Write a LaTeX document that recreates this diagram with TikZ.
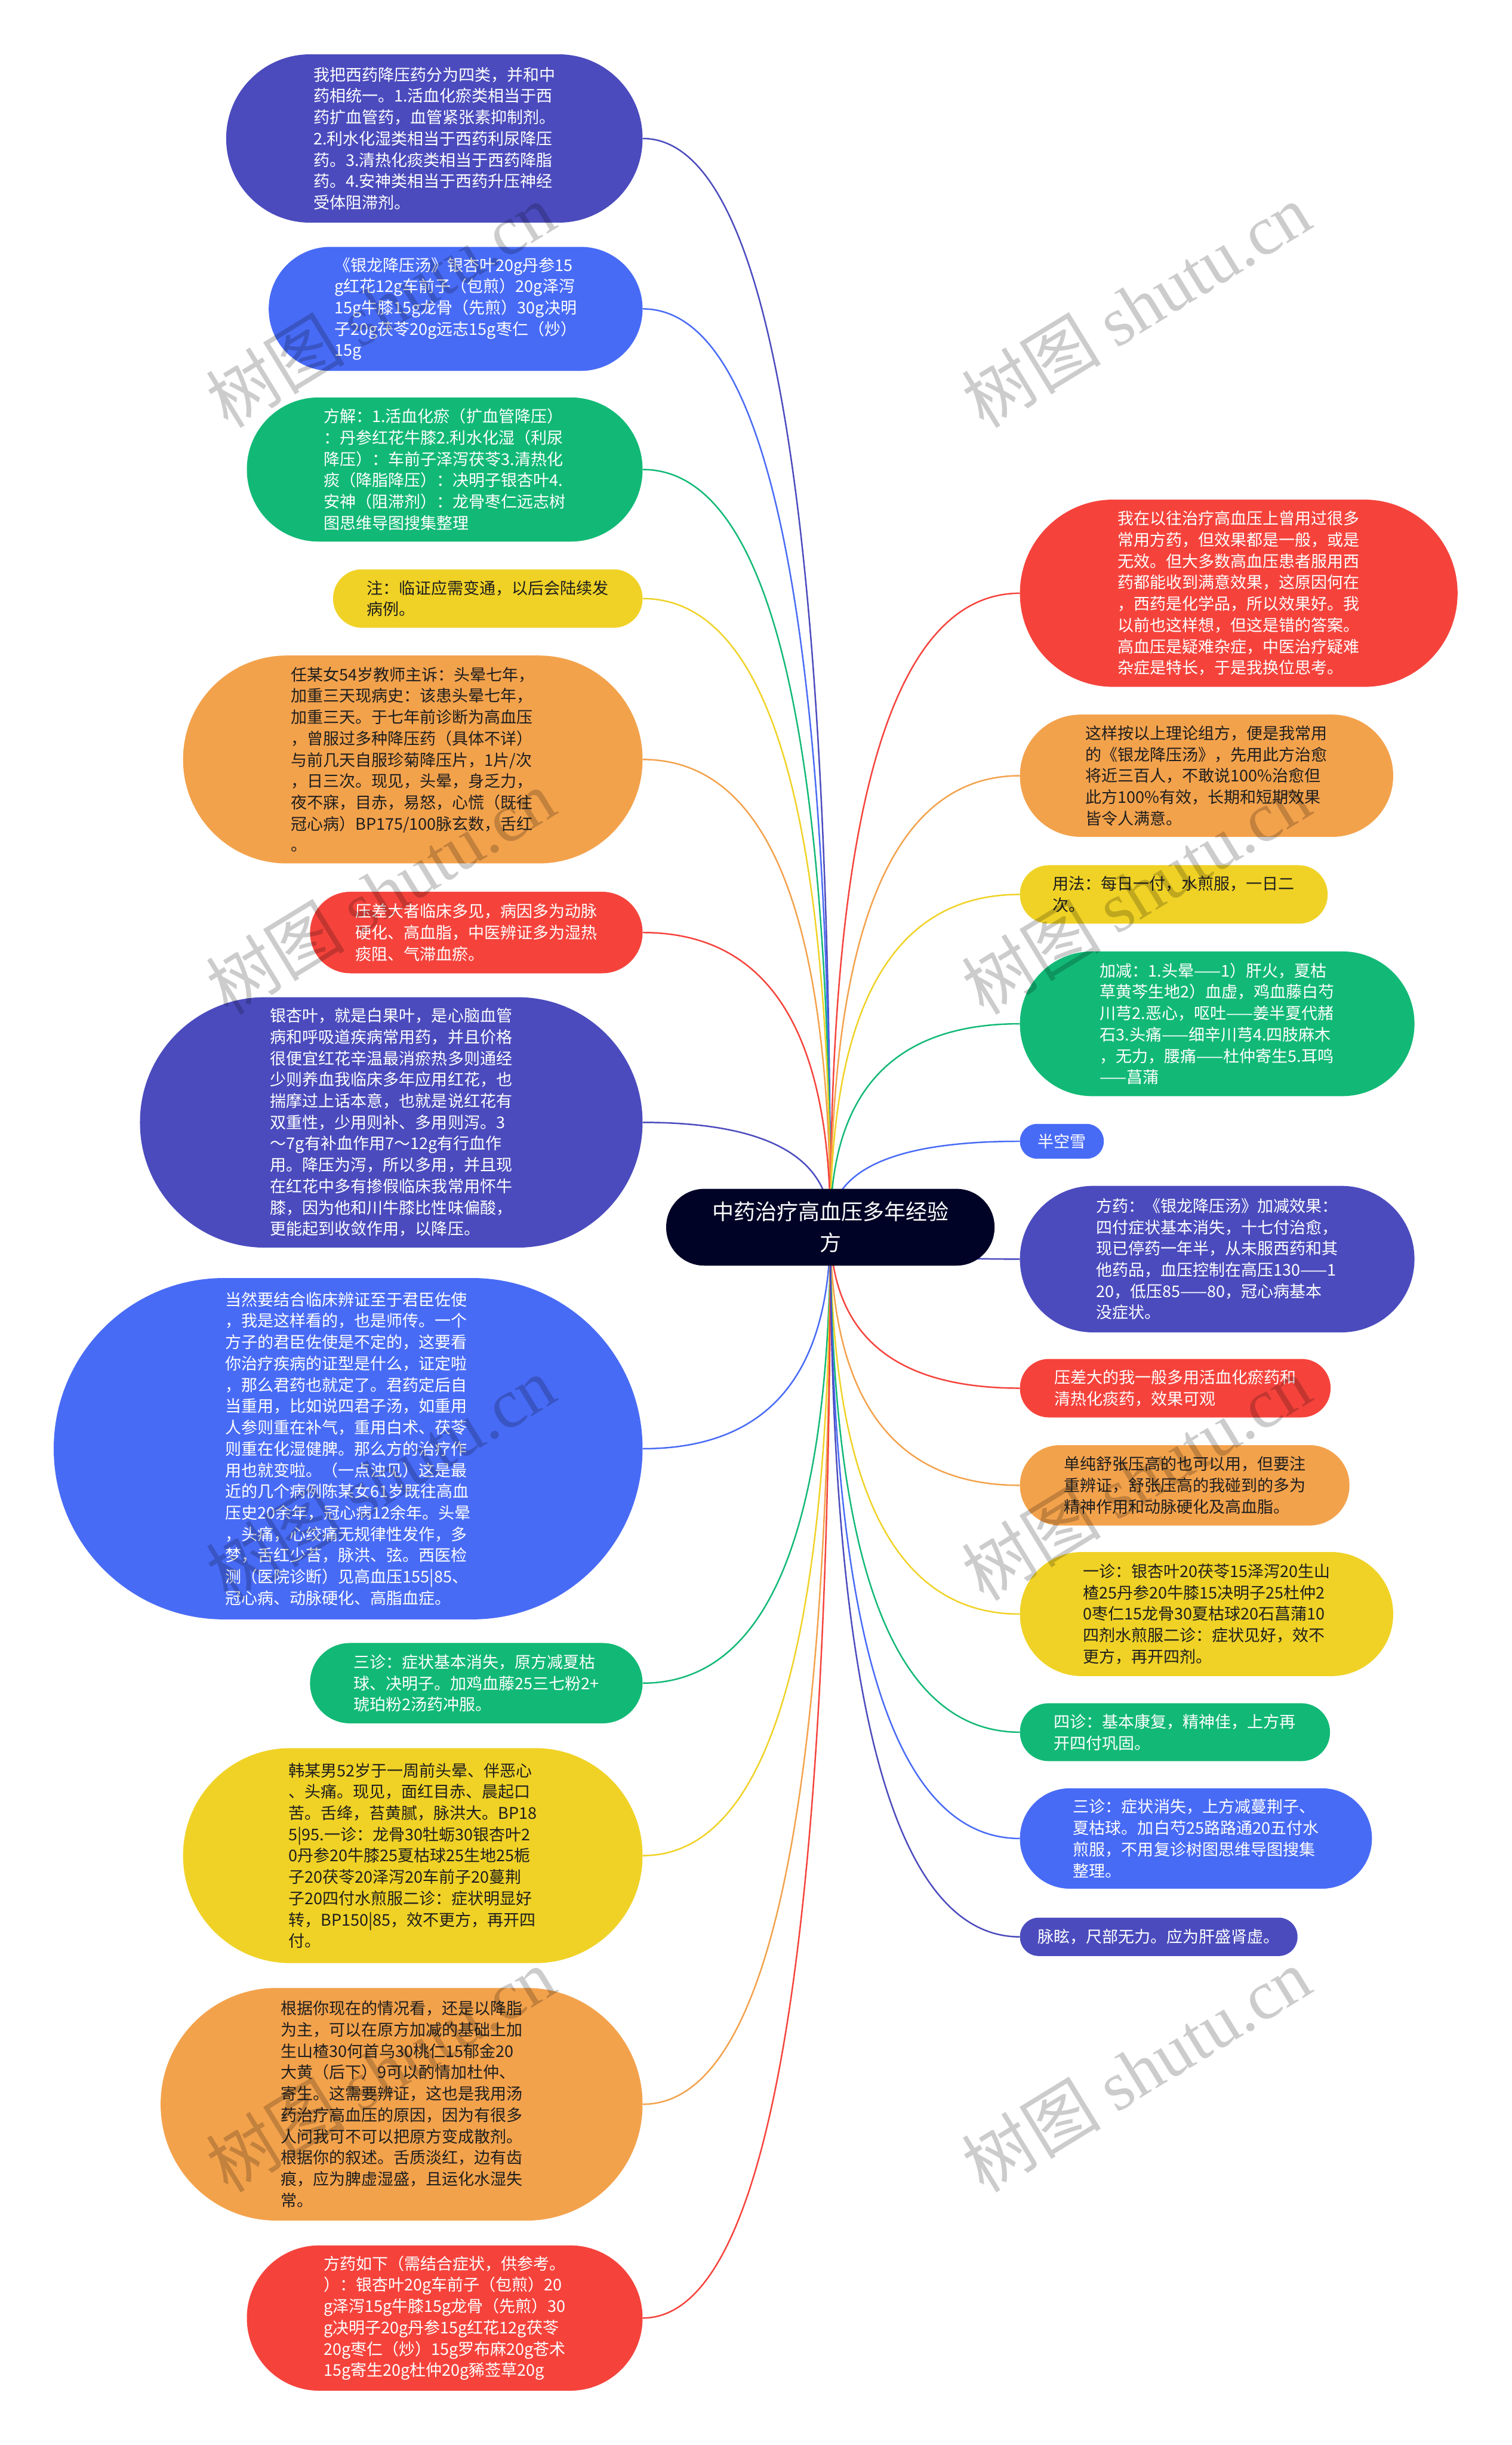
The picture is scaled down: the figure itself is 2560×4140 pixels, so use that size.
\documentclass[tikz,border=0pt]{standalone}
\usepackage{fontspec}
\setmainfont{Noto Sans CJK SC}
\newfontfamily\wmfont{Liberation Serif}
\usetikzlibrary{calc,backgrounds}

\definecolor{cpurple}{RGB}{75,75,190}
\definecolor{cblue}{RGB}{72,107,246}
\definecolor{cgreen}{RGB}{18,185,118}
\definecolor{cyellow}{RGB}{240,210,38}
\definecolor{corange}{RGB}{243,162,76}
\definecolor{cred}{RGB}{245,67,60}
\definecolor{croot}{RGB}{0,3,38}
\definecolor{cdark}{RGB}{30,30,30}

\tikzset{
	leaf/.style={rectangle, align=left, inner xsep=10pt, inner ysep=12pt, text=white, font=\fontsize{27.3}{36.1}\selectfont},
	darkleaf/.style={leaf, text=cdark},
	edge/.style={line width=2.5pt},
	wmark/.style={text=black, opacity=0.2, rotate=31.5, font=\fontsize{118}{118}\selectfont}
}

\begin{document}
\begin{tikzpicture}[x=1pt,y=-1pt]
	\useasboundingbox (0,0) rectangle (2560,4140);

	% centre
	\node[fill=croot, text=white, align=center, minimum width=556pt, minimum height=130pt, rounded corners=64.5pt, font=\fontsize{36.4}{53}\selectfont] (root) at (1406,2078) {中药治疗高血压多年经验\\方};

	% left side
	\node[leaf, fill=cpurple, minimum width=705pt, minimum height=285pt, rounded corners=142pt] (l1) at (735.5,234.5) {我把西药降压药分为四类，并和中\\药相统一。1.活血化瘀类相当于西\\药扩血管药，血管紧张素抑制剂。\\2.利水化湿类相当于西药利尿降压\\药。3.清热化痰类相当于西药降脂\\药。4.安神类相当于西药升压神经\\受体阻滞剂。};
	\node[leaf, fill=cblue, minimum width=633pt, minimum height=210pt, rounded corners=104.5pt] (l2) at (771.5,523) {《银龙降压汤》银杏叶20g丹参15\\g红花12g车前子（包煎）20g泽泻\\15g牛膝15g龙骨（先煎）30g决明\\子20g茯苓20g远志15g枣仁（炒）\\15g};
	\node[leaf, fill=cgreen, minimum width=670pt, minimum height=244pt, rounded corners=121.5pt] (l3) at (753,795) {方解：1.活血化瘀（扩血管降压）\\：丹参红花牛膝2.利水化湿（利尿\\降压）：车前子泽泻茯苓3.清热化\\痰（降脂降压）：决明子银杏叶4.\\安神（阻滞剂）：龙骨枣仁远志树\\图思维导图搜集整理};
	\node[darkleaf, fill=cyellow, minimum width=524pt, minimum height=99pt, rounded corners=49pt] (l4) at (826,1013.5) {注：临证应需变通，以后会陆续发\\病例。};
	\node[darkleaf, fill=corange, minimum width=778pt, minimum height=352pt, rounded corners=175.5pt] (l5) at (699,1286) {任某女54岁教师主诉：头晕七年，\\加重三天现病史：该患头晕七年，\\加重三天。于七年前诊断为高血压\\，曾服过多种降压药（具体不详）\\与前几天自服珍菊降压片，1片/次\\，日三次。现见，头晕，身乏力，\\夜不寐，目赤，易怒，心慌（既往\\冠心病）BP175/100脉玄数，舌红\\。};
	\node[leaf, fill=cred, minimum width=563pt, minimum height=138pt, rounded corners=68.5pt] (l6) at (806.5,1579) {压差大者临床多见，病因多为动脉\\硬化、高血脂，中医辨证多为湿热\\痰阻、气滞血瘀。};
	\node[leaf, fill=cpurple, minimum width=851pt, minimum height=424pt, rounded corners=211.5pt] (l7) at (662.5,1900.5) {银杏叶，就是白果叶，是心脑血管\\病和呼吸道疾病常用药，并且价格\\很便宜红花辛温最消瘀热多则通经\\少则养血我临床多年应用红花，也\\揣摩过上话本意，也就是说红花有\\双重性，少用则补、多用则泻。3\\～7g有补血作用7～12g有行血作\\用。降压为泻，所以多用，并且现\\在红花中多有掺假临床我常用怀牛\\膝，因为他和川牛膝比性味偏酸，\\更能起到收敛作用，以降压。};
	\node[leaf, fill=cblue, minimum width=997pt, minimum height=578pt, rounded corners=288.5pt] (l8) at (589.5,2453) {当然要结合临床辨证至于君臣佐使\\，我是这样看的，也是师传。一个\\方子的君臣佐使是不定的，这要看\\你治疗疾病的证型是什么，证定啦\\，那么君药也就定了。君药定后自\\当重用，比如说四君子汤，如重用\\人参则重在补气，重用白术、茯苓\\则重在化湿健脾。那么方的治疗作\\用也就变啦。（一点浊见）这是最\\近的几个病例陈某女61岁既往高血\\压史20余年，冠心病12余年。头晕\\，头痛，心绞痛无规律性发作，多\\梦，舌红少苔，脉洪、弦。西医检\\测（医院诊断）见高血压155|85、\\冠心病、动脉硬化、高脂血症。};
	\node[leaf, fill=cgreen, minimum width=563pt, minimum height=136pt, rounded corners=67.5pt] (l9) at (806.5,2850) {三诊：症状基本消失，原方减夏枯\\球、决明子。加鸡血藤25三七粉2+\\琥珀粉2汤药冲服。};
	\node[darkleaf, fill=cyellow, minimum width=778pt, minimum height=364pt, rounded corners=181.5pt] (l10) at (699,3142) {韩某男52岁于一周前头晕、伴恶心\\、头痛。现见，面红目赤、晨起口\\苦。舌绛，苔黄腻，脉洪大。BP18\\5|95.一诊：龙骨30牡蛎30银杏叶2\\0丹参20牛膝25夏枯球25生地25栀\\子20茯苓20泽泻20车前子20蔓荆\\子20四付水煎服二诊：症状明显好\\转，BP150|85，效不更方，再开四\\付。};
	\node[darkleaf, fill=corange, minimum width=816pt, minimum height=394pt, rounded corners=196.5pt] (l11) at (680,3563) {根据你现在的情况看，还是以降脂\\为主，可以在原方加减的基础上加\\生山楂30何首乌30桃仁15郁金20\\大黄（后下）9可以酌情加杜仲、\\寄生。这需要辨证，这也是我用汤\\药治疗高血压的原因，因为有很多\\人问我可不可以把原方变成散剂。\\根据你的叙述。舌质淡红，边有齿\\痕，应为脾虚湿盛，且运化水湿失\\常。};
	\node[leaf, fill=cred, minimum width=670pt, minimum height=246pt, rounded corners=122.5pt] (l12) at (753,3925) {方药如下（需结合症状，供参考。\\）：银杏叶20g车前子（包煎）20\\g泽泻15g牛膝15g龙骨（先煎）30\\g决明子20g丹参15g红花12g茯苓\\20g枣仁（炒）15g罗布麻20g苍术\\15g寄生20g杜仲20g豨莶草20g};

	% right side
	\node[leaf, fill=cred, minimum width=741pt, minimum height=317pt, rounded corners=158pt] (r1) at (2097.5,1004.5) {我在以往治疗高血压上曾用过很多\\常用方药，但效果都是一般，或是\\无效。但大多数高血压患者服用西\\药都能收到满意效果，这原因何在\\，西药是化学品，所以效果好。我\\以前也这样想，但这是错的答案。\\高血压是疑难杂症，中医治疗疑难\\杂症是特长，于是我换位思考。};
	\node[darkleaf, fill=corange, minimum width=632pt, minimum height=207pt, rounded corners=103pt] (r2) at (2043,1313.5) {这样按以上理论组方，便是我常用\\的《银龙降压汤》，先用此方治愈\\将近三百人，不敢说100\%治愈但\\此方100\%有效，长期和短期效果\\皆令人满意。};
	\node[darkleaf, fill=cyellow, minimum width=521pt, minimum height=99pt, rounded corners=49pt] (r3) at (1987.5,1514.5) {用法：每日一付，水煎服，一日二\\次。};
	\node[leaf, fill=cgreen, minimum width=668pt, minimum height=245pt, rounded corners=122pt] (r4) at (2061,1733.5) {加减：1.头晕——1）肝火，夏枯\\草黄芩生地2）血虚，鸡血藤白芍\\川芎2.恶心，呕吐——姜半夏代赭\\石3.头痛——细辛川芎4.四肢麻木\\，无力，腰痛——杜仲寄生5.耳鸣\\——菖蒲};
	\node[leaf, fill=cblue, minimum width=142pt, minimum height=59pt, rounded corners=29pt] (r5) at (1798,1932.5) {半空雪};
	\node[leaf, fill=cpurple, minimum width=668pt, minimum height=248pt, rounded corners=123.5pt] (r6) at (2061,2132) {方药：《银龙降压汤》加减效果：\\四付症状基本消失，十七付治愈，\\现已停药一年半，从未服西药和其\\他药品，血压控制在高压130——1\\20，低压85——80，冠心病基本\\没症状。};
	\node[leaf, fill=cred, minimum width=526pt, minimum height=99pt, rounded corners=49pt] (r7) at (1990,2350.5) {压差大的我一般多用活血化瘀药和\\清热化痰药，效果可观};
	\node[darkleaf, fill=corange, minimum width=558pt, minimum height=136pt, rounded corners=67.5pt] (r8) at (2006,2515) {单纯舒张压高的也可以用，但要注\\重辨证，舒张压高的我碰到的多为\\精神作用和动脉硬化及高血脂。};
	\node[darkleaf, fill=cyellow, minimum width=632pt, minimum height=210pt, rounded corners=104.5pt] (r9) at (2043,2733) {一诊：银杏叶20茯苓15泽泻20生山\\楂25丹参20牛膝15决明子25杜仲2\\0枣仁15龙骨30夏枯球20石菖蒲10\\四剂水煎服二诊：症状见好，效不\\更方，再开四剂。};
	\node[leaf, fill=cgreen, minimum width=525pt, minimum height=98pt, rounded corners=48.5pt] (r10) at (1989.5,2933) {四诊：基本康复，精神佳，上方再\\开四付巩固。};
	\node[leaf, fill=cblue, minimum width=596pt, minimum height=170pt, rounded corners=84.5pt] (r11) at (2025,3113) {三诊：症状消失，上方减蔓荆子、\\夏枯球。加白芍25路路通20五付水\\煎服，不用复诊树图思维导图搜集\\整理。};
	\node[leaf, fill=cpurple, minimum width=470pt, minimum height=65pt, rounded corners=32pt] (r12) at (1962,3279.5) {脉眩，尺部无力。应为肝盛肾虚。};

	% connectors, behind the nodes
	\begin{scope}[on background layer]
	\fill[white] (0,0) rectangle (2560,4140);
	\foreach \n/\c in {l1/cpurple,l2/cblue,l3/cgreen,l4/cyellow,l5/corange,l6/cred,l7/cpurple,l8/cblue,l9/cgreen,l10/cyellow,l11/corange,l12/cred}
		\draw[edge, draw=\c] (root.center) .. controls ($(root.center)!0.667!(root.center |- \n.east)$) and ($(\n.east)!0.667!(root.center |- \n.east)$) .. (\n.east);
	\foreach \n/\c in {r1/cred,r2/corange,r3/cyellow,r4/cgreen,r5/cblue,r6/cpurple,r7/cred,r8/corange,r9/cyellow,r10/cgreen,r11/cblue,r12/cpurple}
		\draw[edge, draw=\c] (root.center) .. controls ($(root.center)!0.667!(root.center |- \n.west)$) and ($(\n.west)!0.667!(root.center |- \n.west)$) .. (\n.west);
	\end{scope}

	% watermark
	\foreach \y [count=\i] in {517,1510,2503,3505}{
		\node[wmark] (wml\i) at (644,\y) {树图 {\wmfont shutu.cn}};
		\node[wmark] (wmr\i) at (1924,\y) {树图 {\wmfont shutu.cn}};
	}
\end{tikzpicture}
\end{document}
